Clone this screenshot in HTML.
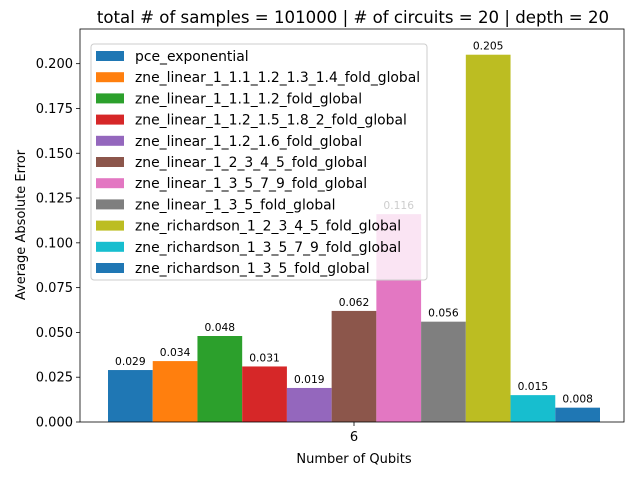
<!DOCTYPE html>
<html><head><meta charset="utf-8"><style>body{margin:0;background:#fff}svg{display:block;font-family:"DejaVu Sans","Liberation Sans",sans-serif}</style></head>
<body>
<svg id="chart" width="640" height="480" viewBox="0 0 640 480" xmlns="http://www.w3.org/2000/svg">
<rect width="640" height="480" fill="#fff"/>
<text x="353" y="23" text-anchor="middle" font-size="16.6">total # of samples = 101000 | # of circuits = 20 | depth = 20</text>
<g id="bars"></g>
<g id="yaxis"></g>
<rect x="80" y="29" width="544" height="393" fill="none" stroke="#000" stroke-width="0.8"/>
<line x1="354" y1="422" x2="354" y2="426" stroke="#000" stroke-width="0.8"/>
<text x="354" y="441" text-anchor="middle" font-size="13">6</text>
<text x="354" y="463" text-anchor="middle" font-size="13">Number of Qubits</text>
<text transform="translate(25,225) rotate(-90)" text-anchor="middle" font-size="13">Average Absolute Error</text>
<g id="legend"></g>
</svg>
<script>
const categories = ["pce_exponential","zne_linear_1_1.1_1.2_1.3_1.4_fold_global","zne_linear_1_1.1_1.2_fold_global","zne_linear_1_1.2_1.5_1.8_2_fold_global","zne_linear_1_1.2_1.6_fold_global","zne_linear_1_2_3_4_5_fold_global","zne_linear_1_3_5_7_9_fold_global","zne_linear_1_3_5_fold_global","zne_richardson_1_2_3_4_5_fold_global","zne_richardson_1_3_5_7_9_fold_global","zne_richardson_1_3_5_fold_global"];
const values = [0.029,0.034,0.048,0.031,0.019,0.062,0.116,0.056,0.205,0.015,0.008];
const yTicks = [0,0.025,0.05,0.075,0.1,0.125,0.15,0.175,0.2];
const colors = ["#1f77b4","#ff7f0e","#2ca02c","#d62728","#9467bd","#8c564b","#e377c2","#7f7f7f","#bcbd22","#17becf","#1f77b4"];
const NS="http://www.w3.org/2000/svg";
const plotTop=29, plotBottom=422, groupLeft=108, groupRight=600;
const yMax=Math.max(...values)*1.07;
const y=v=>plotBottom-(v/yMax)*(plotBottom-plotTop);
const bw=(groupRight-groupLeft)/values.length;
const x=i=>groupLeft+i*bw;
function mk(tag,attrs,parent){const e=document.createElementNS(NS,tag);for(const k in attrs)e.setAttribute(k,attrs[k]);parent.appendChild(e);return e;}
const bars=document.getElementById('bars');
values.forEach((v,i)=>{
  const r=mk('rect',{x:x(i),y:y(v),width:bw,height:plotBottom-y(v),fill:colors[i]},bars);
  
  
  const t=mk('text',{x:x(i)+bw/2,y:y(v)-5,'text-anchor':'middle','font-size':'10.7'},bars);
  t.textContent=v.toFixed(3);
  
  
});
const ya=document.getElementById('yaxis');
yTicks.forEach(v=>{
  const l=mk('line',{x1:76,x2:80,y1:y(v),y2:y(v),stroke:'#000','stroke-width':0.8},ya);
  
  
  const t=mk('text',{x:73,y:y(v)+4.5,'text-anchor':'end','font-size':'13'},ya);
  t.textContent=v.toFixed(3);
  
  
});
const lg=document.getElementById('legend');
const box=mk('rect',{x:91,y:44,width:336,height:236,rx:3,fill:'#fff','fill-opacity':0.8,stroke:'#ccc','stroke-width':1},lg);


categories.forEach((c,i)=>{
  const cy=56+i*21.2;
  const p=mk('rect',{x:96,y:cy-5,width:28,height:10,fill:colors[i]},lg);
  
  
  const t=mk('text',{x:135,y:cy+5,'font-size':'13.9'},lg);
  t.textContent=c;
  
  
});
</script>
</body></html>
